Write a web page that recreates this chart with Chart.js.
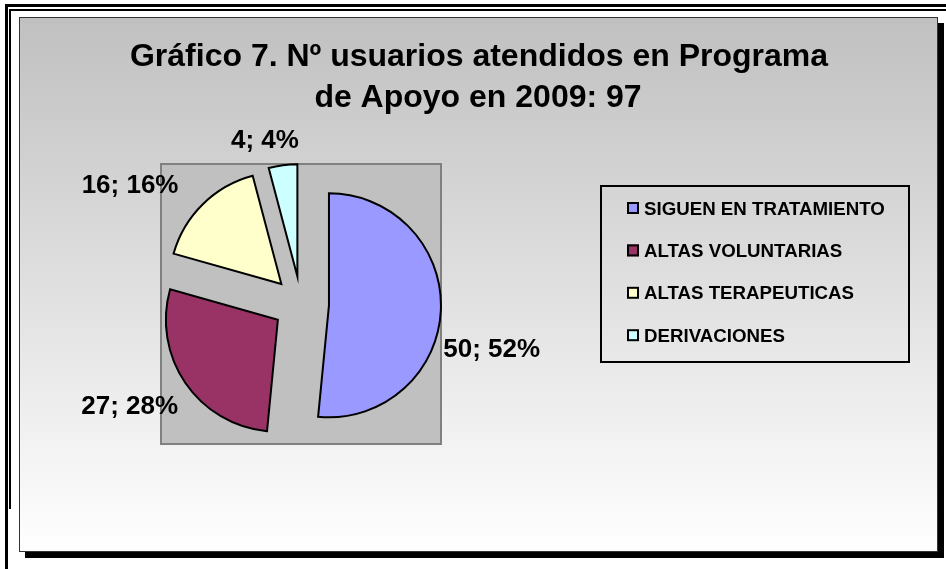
<!DOCTYPE html>
<html>
<head>
<meta charset="utf-8">
<script src="https://cdn.jsdelivr.net/npm/chart.js@4.4.1/dist/chart.umd.min.js"></script>
<style>
html,body{margin:0;padding:0;background:#fff;overflow:hidden}
#wrap{position:relative;width:946px;height:569px}
canvas{display:block}
</style>
</head>
<body>
<div id="wrap"><canvas id="c" width="946" height="569"></canvas></div>
<script>
// ---- data ----
const categories = ['SIGUEN EN TRATAMIENTO', 'ALTAS VOLUNTARIAS', 'ALTAS TERAPEUTICAS', 'DERIVACIONES'];
const usuarios = [50, 27, 16, 4];
const titleLines = ['Gráfico 7. Nº usuarios atendidos en Programa', 'de Apoyo en 2009: 97'];
const sliceColors = ['#9999FF', '#993366', '#FFFFCC', '#CCFFFF'];

// ---- layout / style ----
const FONT = '"Liberation Sans", Arial, Helvetica, sans-serif';
const EXPLODE = 28;      // exploded distance of each slice
const RADIUS = 112;      // pie radius
const labelAngleDeg = [110.4, 229.6, 314.4, 346.7]; // clockwise from 12 o'clock, from slice tip
const labelDist = [122, 131, 144, 141];
const labelAlign = ['left', 'right', 'right', 'center'];
const LABEL_SIZE = 26;
const TITLE_SIZE = 32;
const LEGEND_SIZE = 18.7;

const total = usuarios.reduce((a, b) => a + b, 0);
const pct = usuarios.map(v => Math.round(v / total * 100));

function midAngle(arc) { return (arc.startAngle + arc.endAngle) / 2; }

const explodePlugin = {
  id: 'explode',
  afterDatasetUpdate(chart, args) {
    args.meta.data.forEach(arc => {
      if (arc._exploded) return;
      const orig = arc.draw;
      arc.draw = function (ctx) {
        const m = midAngle(this);
        ctx.save();
        ctx.translate(Math.cos(m) * EXPLODE, Math.sin(m) * EXPLODE);
        orig.call(this, ctx);
        ctx.restore();
      };
      arc._exploded = true;
    });
  }
};

const backgroundPlugin = {
  id: 'bgFrame',
  beforeDraw(chart) {
    const ctx = chart.ctx;
    const W = chart.width, H = chart.height;
    ctx.save();
    ctx.fillStyle = '#ffffff';
    ctx.fillRect(0, 0, W, H);
    // outer double frame lines (top / left)
    ctx.fillStyle = '#000';
    ctx.fillRect(5, 4, W - 5, 3);
    ctx.fillRect(5, 4, 3, H - 4);
    ctx.fillRect(9, 9, W - 9, 2);
    ctx.fillRect(9, 9, 2, 500);
    // chart box shadow
    const bx = 19, by = 17, bw = 919, bh = 535;
    ctx.fillRect(bx + 6, by + 6, bw, bh);
    // chart box gradient
    const g = ctx.createLinearGradient(0, by, 0, by + bh);
    g.addColorStop(0, '#c0c0c0');
    g.addColorStop(1, '#ffffff');
    ctx.fillStyle = g;
    ctx.fillRect(bx, by, bw, bh);
    ctx.strokeStyle = '#333';
    ctx.lineWidth = 1;
    ctx.strokeRect(bx + 0.5, by + 0.5, bw - 1, bh - 1);
    // plot area
    const a = chart.chartArea;
    ctx.fillStyle = '#c0c0c0';
    ctx.fillRect(a.left, a.top, a.right - a.left, a.bottom - a.top);
    ctx.strokeStyle = '#808080';
    ctx.lineWidth = 2;
    ctx.strokeRect(a.left, a.top, a.right - a.left, a.bottom - a.top);
    ctx.restore();
  },
  afterDraw(chart) {
    const ctx = chart.ctx;
    ctx.save();
    // title
    ctx.fillStyle = '#000';
    ctx.font = 'bold ' + TITLE_SIZE + 'px ' + FONT;
    ctx.textAlign = 'center';
    ctx.textBaseline = 'alphabetic';
    ctx.fillText(titleLines[0], 479, 66);
    ctx.fillText(titleLines[1], 478, 107);

    // data labels
    const meta = chart.getDatasetMeta(0);
    ctx.font = 'bold ' + LABEL_SIZE + 'px ' + FONT;
    meta.data.forEach((arc, i) => {
      const m = midAngle(arc);
      const vx = arc.x + Math.cos(m) * EXPLODE;
      const vy = arc.y + Math.sin(m) * EXPLODE;
      const a = labelAngleDeg[i] * Math.PI / 180;
      const lx = vx + Math.sin(a) * labelDist[i];
      const ly = vy - Math.cos(a) * labelDist[i];
      ctx.textAlign = labelAlign[i];
      ctx.fillText(usuarios[i] + '; ' + pct[i] + '%', lx, ly + LABEL_SIZE * 0.358);
    });

    // legend
    const lx = 600, ly = 185, lw = 310, lh = 178;
    ctx.strokeStyle = '#000';
    ctx.lineWidth = 2;
    ctx.strokeRect(lx + 1, ly + 1, lw - 2, lh - 2);
    ctx.font = 'bold ' + LEGEND_SIZE + 'px ' + FONT;
    ctx.textAlign = 'left';
    const firstCenter = ly + 23, step = 42.4;
    categories.forEach((c, i) => {
      const cy = firstCenter + i * step;
      ctx.fillStyle = sliceColors[i];
      ctx.fillRect(627, cy - 6, 12, 12);
      ctx.strokeStyle = '#000';
      ctx.lineWidth = 2;
      ctx.strokeRect(628, cy - 5, 10, 10);
      ctx.fillStyle = '#000';
      ctx.fillText(c, 644, cy + LEGEND_SIZE * 0.358);
    });
    ctx.restore();
  }
};

new Chart(document.getElementById('c'), {
  type: 'pie',
  data: {
    labels: categories,
    datasets: [{
      data: usuarios,
      backgroundColor: sliceColors,
      borderColor: '#000',
      borderWidth: 2,
      borderJoinStyle: 'miter',
      clip: false
    }]
  },
  options: {
    responsive: false,
    animation: false,
    events: [],
    radius: RADIUS,
    layout: { padding: { left: 161, right: 505, top: 164, bottom: 125 } },
    plugins: {
      legend: { display: false },
      title: { display: false },
      tooltip: { enabled: false }
    }
  },
  plugins: [explodePlugin, backgroundPlugin]
});
</script>
</body>
</html>
